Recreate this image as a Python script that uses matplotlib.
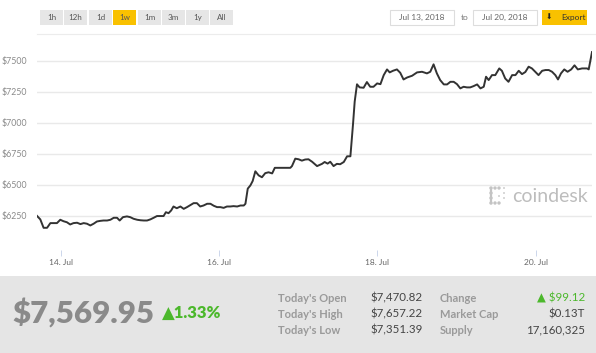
import numpy as np
import pandas as pd
import matplotlib
matplotlib.use("Agg")
import matplotlib.pyplot as plt
import matplotlib.dates as mdates
from matplotlib.patches import Rectangle, Circle

plt.rcParams['font.family'] = ['Lato', 'DejaVu Sans']

# hours since 2018-07-13 00:00 and BTC price (USD)
hours = [16.85, 17.85, 18.85, 19.9, 20.9, 22.9, 23.9, 24.9, 25.9, 26.9, 27.9, 29.0,
         30.0, 31.0, 32.0, 33.0, 34.0, 35.0, 36.0, 37.0, 38.1, 39.1, 40.1, 41.1,
         41.9, 42.9, 44.1, 45.1, 46.1, 47.2, 48.2, 49.2, 50.2, 51.2, 52.2, 53.2,
         54.2, 55.2, 55.9, 56.7, 57.5, 58.2, 59.2, 60.3, 61.3, 62.3, 63.3, 64.3,
         65.3, 66.3, 67.3, 68.4, 69.4, 70.4, 71.4, 72.4, 73.4, 74.4, 75.4, 76.4,
         77.5, 78.5, 79.5, 80.0, 80.7, 81.5, 82.2, 83.0, 84.0, 85.0, 86.0, 87.0,
         88.1, 88.9, 91.1, 93.6, 94.1, 95.1, 96.1, 97.1, 98.1, 99.1, 100.2, 101.7,
         103.2, 104.0, 104.9, 105.7, 106.7, 107.7, 108.7, 109.8, 110.8, 111.8, 112.6, 113.1,
         113.8, 114.6, 115.8, 116.8, 117.8, 118.8, 119.9, 120.9, 121.9, 122.9, 123.7, 124.7,
         125.9, 126.9, 127.9, 129.0, 130.5, 132.0, 133.5, 135.0, 136.0, 137.0, 138.0, 139.0,
         140.1, 141.1, 142.1, 143.1, 144.1, 145.1, 146.1, 147.1, 148.1, 149.1, 150.2, 151.2,
         152.2, 152.9, 153.7, 154.7, 155.7, 156.9, 157.7, 158.7, 159.7, 160.8, 161.8, 162.8,
         163.8, 164.8, 165.8, 166.8, 167.8, 168.8, 169.9, 170.9, 171.9, 172.9, 173.9, 174.7,
         175.6, 176.6, 177.6, 178.7, 179.7, 180.7, 182.0, 183.5, 184.0, 185.0]
price = [6248, 6220, 6152, 6152, 6190, 6190, 6217, 6205, 6197, 6179, 6190, 6193,
         6182, 6190, 6185, 6171, 6185, 6203, 6208, 6211, 6211, 6217, 6233, 6233,
         6211, 6238, 6244, 6238, 6225, 6217, 6213, 6211, 6211, 6220, 6233, 6247,
         6247, 6247, 6278, 6270, 6292, 6324, 6310, 6324, 6305, 6319, 6335, 6351,
         6351, 6324, 6332, 6346, 6346, 6330, 6319, 6319, 6313, 6324, 6324, 6327,
         6324, 6332, 6332, 6346, 6468, 6494, 6530, 6608, 6575, 6560, 6593, 6600,
         6591, 6636, 6636, 6636, 6650, 6710, 6705, 6694, 6703, 6705, 6685, 6650,
         6668, 6683, 6670, 6685, 6650, 6668, 6665, 6683, 6729, 6729, 6990, 7170,
         7310, 7285, 7282, 7328, 7290, 7290, 7317, 7311, 7384, 7430, 7406, 7419,
         7430, 7403, 7349, 7365, 7379, 7406, 7411, 7398, 7411, 7471, 7398, 7344,
         7309, 7309, 7330, 7330, 7311, 7277, 7290, 7285, 7285, 7295, 7309, 7277,
         7290, 7371, 7344, 7384, 7384, 7438, 7419, 7357, 7330, 7384, 7384, 7419,
         7392, 7409, 7452, 7438, 7411, 7384, 7419, 7425, 7425, 7411, 7384, 7349,
         7398, 7430, 7411, 7430, 7463, 7430, 7438, 7438, 7430, 7570]

ranges = ['1h', '12h', '1d', '1w', '1m', '3m', '1y', 'All']
active_range = '1w'
date_from = 'Jul 13, 2018'
date_to = 'Jul 20, 2018'
yticks = [6250, 6500, 6750, 7000, 7250, 7500]
xticks = ['2018-07-14', '2018-07-16', '2018-07-18', '2018-07-20']

last_price = '$7,569.95'
pct_change = '\u25b21.33%'
stat_labels_1 = ["Today's Open", "Today's High", "Today's Low"]
stat_values_1 = ['$7,470.82', '$7,657.22', '$7,351.39']
stat_labels_2 = ['Change', 'Market Cap', 'Supply']
stat_values_2 = ['\u25b2 $99.12', '$0.13T', '17,160,325']

W, H = 596, 353
fig = plt.figure(figsize=(W / 100, H / 100), dpi=100)
fig.patch.set_facecolor('white')

# overlay in pixel coords for the page furniture
ov = fig.add_axes([0, 0, 1, 1], zorder=0)
ov.set_xlim(0, W)
ov.set_ylim(H, 0)
ov.axis('off')

green = '#4cb82c'
yellow = '#f9c100'

# range buttons
bx = [40, 64, 89, 113, 138, 162, 186, 210]
for x0, lab in zip(bx, ranges):
    fc = yellow if lab == active_range else '#e6e6e6'
    ov.add_patch(Rectangle((x0, 10), 23, 14.5, fc=fc, ec='none'))
    ov.text(x0 + 11.5, 17.5, lab, ha='center', va='center', fontsize=5.8, color='#555555')
ov.plot([37, W], [33.5, 33.5], color='#ececec', lw=0.8)

# date range boxes
for x0, lab in [(390, date_from), (473, date_to)]:
    ov.add_patch(Rectangle((x0, 10), 64, 14.5, fc='white', ec='#dddddd', lw=0.8))
    ov.text(x0 + 32, 17.5, lab, ha='center', va='center', fontsize=6, color='#666666')
ov.text(465, 17.5, 'to', ha='center', va='center', fontsize=6, color='#777777')
ov.add_patch(Rectangle((542, 10), 45, 14.5, fc=yellow, ec='none'))
ov.text(549, 17.5, '\u2b07', ha='center', va='center', fontsize=5.5, color='#222222',
        family=['DejaVu Sans'])
ov.text(573, 17.5, 'Export', ha='center', va='center', fontsize=6, color='#333333')

# bottom stats panel
ov.add_patch(Rectangle((0, 276), W, H - 276, fc='#e5e5e5', ec='none'))
ov.text(12, 313, last_price, ha='left', va='center', fontsize=22.5, fontweight='heavy',
        color='#8a8a8a')
ov.text(162, 313, pct_change, ha='left', va='center', fontsize=12, fontweight='heavy',
        color=green, family=['Lato', 'DejaVu Sans'])
rows = [298, 314, 330]
for y, l1, v1, l2, v2 in zip(rows, stat_labels_1, stat_values_1, stat_labels_2, stat_values_2):
    ov.text(278, y, l1, ha='left', va='center', fontsize=8, fontweight='bold', color='#9a9a9a')
    ov.text(423, y, v1, ha='right', va='center', fontsize=8.3, color='#444444')
    ov.text(440, y, l2, ha='left', va='center', fontsize=8, fontweight='bold', color='#9a9a9a')
    ov.text(585, y, v2, ha='right', va='center', fontsize=8.3,
            color=green if v2.startswith('\u25b2') else '#444444')

# coindesk watermark
for cx, cy in [(491, 188), (495, 188), (499, 188), (491, 193), (491, 198), (491, 203),
               (495, 203), (499, 203)]:
    ov.add_patch(Circle((cx, cy), 1.7, fc='#c4c4c4', ec='none'))
ov.plot([491, 491], [188, 203], color='#c4c4c4', lw=1.6)
for cx, cy in [(504, 188), (504, 193), (504, 198), (499, 196)]:
    ov.add_patch(Circle((cx, cy), 0.9, fc='#c4c4c4', ec='none'))
ov.text(512, 196, 'coindesk', ha='left', va='center', fontsize=14, color='#bdbdbd')

# price chart
t = pd.Timestamp('2018-07-13') + pd.to_timedelta(hours, unit='h')
ax = fig.add_axes([37 / W, 1 - 250 / H, (592 - 37) / W, (250 - 45) / H], zorder=1)
ax.patch.set_alpha(0)
ax.plot(t, price, color='#333333', lw=1.4, solid_joinstyle='round')
ax.set_xlim(t[0], t[-1])
ax.set_ylim(5973, 7627)
for s in ax.spines.values():
    s.set_visible(False)
ax.set_yticks(yticks)
ax.set_yticklabels(['$%d' % v for v in yticks])
ax.yaxis.grid(True, color='#e9e9e9', lw=1)
ax.tick_params(axis='y', length=0, pad=7, labelsize=6.3, labelcolor='#8a8a8a')
ax.set_xticks(pd.to_datetime(xticks))
ax.xaxis.set_major_formatter(mdates.DateFormatter('%d. %b'))
ax.tick_params(axis='x', length=4.5, width=0.7, color='#ccd6eb', pad=2, labelsize=6,
               labelcolor='#666666')
for lab in ax.get_yticklabels():
    lab.set_horizontalalignment('right')

fig.savefig('out.png', dpi=100)
